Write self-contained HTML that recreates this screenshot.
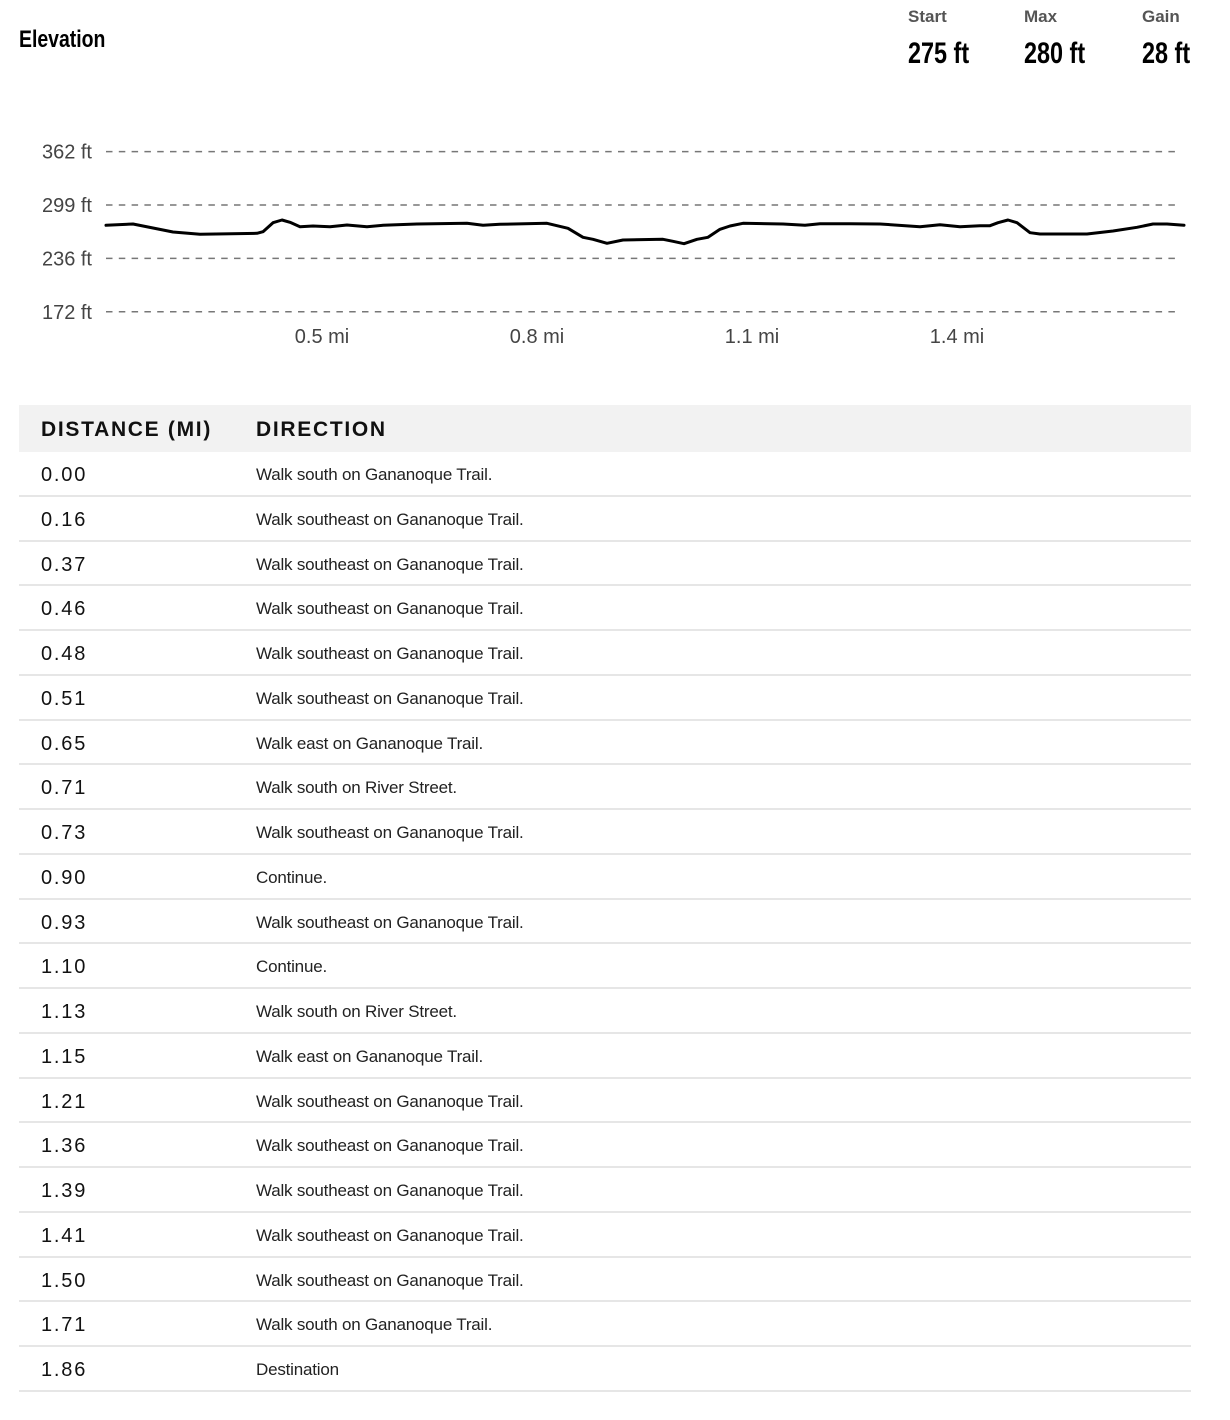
<!DOCTYPE html>
<html>
<head>
<meta charset="utf-8">
<style>
  html,body{margin:0;padding:0;background:#fff;}
  body{width:1230px;height:1420px;position:relative;overflow:hidden;font-family:"Liberation Sans",Arial,sans-serif;color:#111;}
  .abs{position:absolute;white-space:nowrap;}
  .title{left:19px;top:26px;font-size:24px;font-weight:bold;line-height:28px;transform:scaleX(0.81);transform-origin:left center;color:#000;}
  .slabel{font-size:17px;font-weight:bold;color:#555;line-height:20px;top:7px;}
  .sval{font-size:30px;font-weight:bold;color:#000;line-height:34px;top:37px;transform:scaleX(0.78);transform-origin:left center;}
  .thead{position:absolute;left:19px;top:405px;width:1172px;height:47px;background:#f2f2f2;}
  .th{position:absolute;top:0;line-height:49px;font-size:21px;font-weight:bold;letter-spacing:1.7px;color:#111;}
  .row{position:absolute;left:19px;width:1172px;height:44.76px;box-sizing:border-box;border-bottom:2px solid #e6e6e6;}
  .num{position:absolute;left:22px;top:0;line-height:47px;font-size:20px;letter-spacing:1.8px;color:#111;}
  .dir{position:absolute;left:237px;top:0;line-height:45px;font-size:17px;color:#222;letter-spacing:-0.2px;}
</style>
</head>
<body>
<div class="abs title">Elevation</div>

<div class="abs slabel" style="left:908px;">Start</div>
<div class="abs sval" style="left:908px;">275 ft</div>
<div class="abs slabel" style="left:1024px;">Max</div>
<div class="abs sval" style="left:1024px;">280 ft</div>
<div class="abs slabel" style="left:1142px;">Gain</div>
<div class="abs sval" style="left:1142px;">28 ft</div>

<svg class="abs" style="left:0;top:0;" width="1230" height="370" viewBox="0 0 1230 370">
  <g stroke="#777" stroke-width="1.5" stroke-dasharray="6.5 6.3" fill="none">
    <line x1="106" y1="151.6" x2="1180" y2="151.6"/>
    <line x1="106" y1="205" x2="1180" y2="205"/>
    <line x1="106" y1="258.4" x2="1180" y2="258.4"/>
    <line x1="106" y1="311.8" x2="1180" y2="311.8"/>
  </g>
  <g font-family="Liberation Sans, Arial, sans-serif" font-size="20" fill="#444" text-anchor="end">
    <text x="92" y="158.5">362 ft</text>
    <text x="92" y="212">299 ft</text>
    <text x="92" y="265.5">236 ft</text>
    <text x="92" y="319">172 ft</text>
  </g>
  <g font-family="Liberation Sans, Arial, sans-serif" font-size="20" fill="#444" text-anchor="middle">
    <text x="322" y="343">0.5 mi</text>
    <text x="537" y="343">0.8 mi</text>
    <text x="752" y="343">1.1 mi</text>
    <text x="957" y="343">1.4 mi</text>
  </g>
  <polyline fill="none" stroke="#000" stroke-width="3" stroke-linejoin="round" stroke-linecap="round"
    points="106,225.3 133,224 153,228 173,232 200,234.3 257,233.3 263,231.7 273,222.7 282,220 290,222.3 300,226.7 313,226 330,226.7 347,225 367,226.7 383,225.3 417,224 467,223.3 483,225.3 500,224.3 547,223.3 568,228.3 583,237.3 593,239.3 607,243.3 623,240 663,239.3 673,241.3 684,243.7 697,239.3 708,237.3 720,229.3 730,226 743,223.3 783,224 805,225.3 820,223.7 850,223.7 880,224 920,226.7 940,224.7 960,226.7 980,225.7 990,225.7 998,222.7 1008,220 1017,222.7 1030,232.7 1040,234 1087,234 1113,231 1137,227.3 1153,224 1167,224 1184,225.3"/>
</svg>

<div class="thead">
  <div class="th" style="left:22px;">DISTANCE (MI)</div>
  <div class="th" style="left:237px;">DIRECTION</div>
</div>

<div class="row" style="top:452px;"><div class="num">0.00</div><div class="dir">Walk south on Gananoque Trail.</div></div>
<div class="row" style="top:496.76px;"><div class="num">0.16</div><div class="dir">Walk southeast on Gananoque Trail.</div></div>
<div class="row" style="top:541.52px;"><div class="num">0.37</div><div class="dir">Walk southeast on Gananoque Trail.</div></div>
<div class="row" style="top:586.28px;"><div class="num">0.46</div><div class="dir">Walk southeast on Gananoque Trail.</div></div>
<div class="row" style="top:631.04px;"><div class="num">0.48</div><div class="dir">Walk southeast on Gananoque Trail.</div></div>
<div class="row" style="top:675.8px;"><div class="num">0.51</div><div class="dir">Walk southeast on Gananoque Trail.</div></div>
<div class="row" style="top:720.56px;"><div class="num">0.65</div><div class="dir">Walk east on Gananoque Trail.</div></div>
<div class="row" style="top:765.32px;"><div class="num">0.71</div><div class="dir">Walk south on River Street.</div></div>
<div class="row" style="top:810.08px;"><div class="num">0.73</div><div class="dir">Walk southeast on Gananoque Trail.</div></div>
<div class="row" style="top:854.84px;"><div class="num">0.90</div><div class="dir">Continue.</div></div>
<div class="row" style="top:899.6px;"><div class="num">0.93</div><div class="dir">Walk southeast on Gananoque Trail.</div></div>
<div class="row" style="top:944.36px;"><div class="num">1.10</div><div class="dir">Continue.</div></div>
<div class="row" style="top:989.12px;"><div class="num">1.13</div><div class="dir">Walk south on River Street.</div></div>
<div class="row" style="top:1033.88px;"><div class="num">1.15</div><div class="dir">Walk east on Gananoque Trail.</div></div>
<div class="row" style="top:1078.64px;"><div class="num">1.21</div><div class="dir">Walk southeast on Gananoque Trail.</div></div>
<div class="row" style="top:1123.4px;"><div class="num">1.36</div><div class="dir">Walk southeast on Gananoque Trail.</div></div>
<div class="row" style="top:1168.16px;"><div class="num">1.39</div><div class="dir">Walk southeast on Gananoque Trail.</div></div>
<div class="row" style="top:1212.92px;"><div class="num">1.41</div><div class="dir">Walk southeast on Gananoque Trail.</div></div>
<div class="row" style="top:1257.68px;"><div class="num">1.50</div><div class="dir">Walk southeast on Gananoque Trail.</div></div>
<div class="row" style="top:1302.44px;"><div class="num">1.71</div><div class="dir">Walk south on Gananoque Trail.</div></div>
<div class="row" style="top:1347.2px;"><div class="num">1.86</div><div class="dir">Destination</div></div>
</body>
</html>
